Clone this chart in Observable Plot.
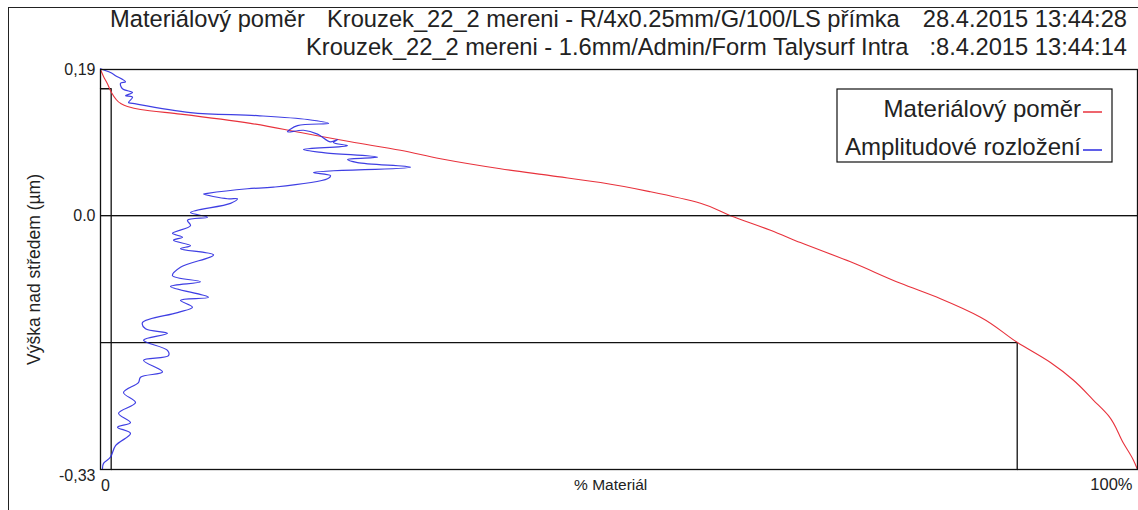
<!DOCTYPE html>
<html>
<head>
<meta charset="utf-8">
<script src="https://cdn.jsdelivr.net/npm/d3@7"></script>
<script src="https://cdn.jsdelivr.net/npm/@observablehq/plot@0.6"></script>
<style>
  html, body { margin: 0; padding: 0; background: #fff; }
  #wrap { position: relative; width: 1138px; height: 510px; overflow: hidden; font-family: "Liberation Sans", Arial, sans-serif; }
  #outer { position: absolute; left: 8px; top: 7px; width: 1200px; height: 600px; border-left: 1.5px solid #222; border-top: 1.5px solid #222; }
  #chart { position: absolute; left: 0; top: 0; }
</style>
</head>
<body>
<div id="wrap"><div id="outer"></div><div id="chart"></div></div>
<script>
// Material ratio (Abbott) curve: % material vs height (µm)
const redX = [0, 0.29, 0.68, 1.06, 1.45, 1.93, 2.60, 3.86, 7.71, 14.46, 19.29, 24.11, 28.93, 32.79, 38.57, 43.39, 48.22, 53.04, 57.86, 60.75, 64.61, 67.50, 72.32, 77.15, 81.00, 84.86, 88.43, 91.61, 93.83, 95.76, 97.20, 98.65, 99.61, 100];
const redY = [0.190, 0.181, 0.171, 0.160, 0.152, 0.146, 0.142, 0.138, 0.132, 0.120, 0.108, 0.096, 0.085, 0.074, 0.061, 0.052, 0.043, 0.031, 0.016, 0.000, -0.019, -0.035, -0.060, -0.088, -0.108, -0.132, -0.165, -0.191, -0.214, -0.240, -0.260, -0.296, -0.318, -0.330];

// Amplitude distribution: relative density (same % axis) vs height (µm)
const blueX = [0, 0.96, 1.45, 2.41, 1.93, 2.12, 3.09, 2.41, 3.09, 2.70, 3.09, 8.68, 15.14, 19.96, 21.99, 19.00, 18.03, 19.58, 20.93, 22.18, 22.85, 22.47, 23.82, 19.58, 21.50, 26.71, 23.82, 24.78, 29.89, 20.54, 22.18, 21.89, 16.68, 14.18, 10.32, 9.93, 12.25, 13.21, 12.54, 8.68, 10.32, 8.39, 8.68, 6.94, 7.91, 7.04, 8.68, 7.71, 10.90, 7.71, 6.94, 9.64, 6.75, 10.41, 7.71, 8.87, 7.43, 4.05, 4.34, 6.46, 4.15, 6.46, 6.56, 4.15, 5.98, 3.86, 3.66, 2.22, 3.38, 1.74, 2.89, 1.64, 2.89, 1.45, 0.96, 0.29, 0.19];
const blueY = [0.191, 0.186, 0.182, 0.174, 0.172, 0.165, 0.160, 0.156, 0.154, 0.147, 0.146, 0.134, 0.130, 0.125, 0.120, 0.117, 0.109, 0.111, 0.106, 0.096, 0.099, 0.095, 0.091, 0.086, 0.082, 0.076, 0.073, 0.069, 0.063, 0.056, 0.052, 0.048, 0.037, 0.035, 0.029, 0.028, 0.022, 0.022, 0.016, 0.004, -0.002, -0.006, -0.013, -0.023, -0.028, -0.032, -0.039, -0.043, -0.051, -0.067, -0.078, -0.086, -0.092, -0.106, -0.110, -0.119, -0.126, -0.139, -0.147, -0.153, -0.162, -0.175, -0.182, -0.188, -0.203, -0.210, -0.217, -0.230, -0.243, -0.257, -0.269, -0.275, -0.283, -0.299, -0.314, -0.322, -0.329];

// Material ratio construction lines (Mr1, Mr2 and their heights)
const mrX = [1.03, 88.4];
const mrY = [0.165, -0.165];

// Axis ticks / labels
const yTicks = [0.19, 0];
const yTickLabels = ["0,19", "0.0"];
const yBottomTick = [-0.33];
const yBottomLabel = ["-0,33"];
const xDomain = [0, 100];
const yDomain = [-0.33, 0.19];

const titleLine1 = ["Materiálový poměr", "Krouzek_22_2 mereni - R/4x0.25mm/G/100/LS přímka", "28.4.2015 13:44:28"];
const titleLine2 = ["Krouzek_22_2 mereni - 1.6mm/Admin/Form Talysurf Intra", ":8.4.2015 13:44:14"];
const legendLabels = ["Materiálový poměr", "Amplitudové rozložení"];
const legendColors = ["#e8323c", "#2a2ae0"];
const xLabel = "% Materiál";
const yLabel = "Výška nad středem (µm)";

const redData = redX.map((x, i) => ({x, y: redY[i]}));
const blueData = blueX.map((x, i) => ({x, y: blueY[i]}));
const mrData = mrX.flatMap((mx, i) => [
  {x: xDomain[0], y: mrY[i], k: i},
  {x: mx, y: mrY[i], k: i},
  {x: mx, y: yDomain[0], k: i}
]);

const FONT = "Liberation Sans, Arial, sans-serif";

const chart = Plot.plot({
  width: 1138,
  height: 510,
  marginLeft: 100,
  marginRight: 1,
  marginTop: 69,
  marginBottom: 41,
  style: {fontFamily: FONT, background: "transparent", overflow: "visible"},
  x: {domain: xDomain, axis: null},
  y: {domain: yDomain, axis: null},
  marks: [
    Plot.ruleY([0], {stroke: "#111", strokeWidth: 1.1}),
    Plot.line(mrData, {x: "x", y: "y", z: "k", stroke: "#111", strokeWidth: 1.3}),
    Plot.line(redData, {x: "x", y: "y", stroke: legendColors[0], strokeWidth: 1.1, curve: "monotone-y"}),
    Plot.line(blueData, {x: "x", y: "y", stroke: legendColors[1], strokeWidth: 1.2, curve: "catmull-rom", strokeOpacity: 0.9}),
    Plot.frame({stroke: "#111", strokeWidth: 1.3}),
    Plot.text(yTicks, {x: 0, y: d => d, text: (d, i) => yTickLabels[i], textAnchor: "end", dx: -5, fontSize: 16, fill: "#222"}),
    Plot.text(yBottomTick, {x: 0, y: d => d, text: (d, i) => yBottomLabel[i], textAnchor: "end", dx: -5, dy: 6, fontSize: 16, fill: "#222"}),
    Plot.tickY(yTicks.concat(yBottomTick), {x1: -0.3, x2: 0, stroke: "#111"}),
    Plot.text([0], {x: d => d, frameAnchor: "bottom", dy: 21, dx: 5, text: ["0"], fontSize: 16, fill: "#222"}),
    Plot.text([xLabel], {x: 49.2, frameAnchor: "bottom", dy: 20, text: d => d, fontSize: 15.5, fill: "#222"}),
    Plot.text(["100%"], {x: 100, frameAnchor: "bottom", dy: 20, dx: -5, textAnchor: "end", text: d => d, fontSize: 16.5, fill: "#222"}),
    Plot.text([yLabel], {frameAnchor: "left", dx: -66, rotate: -90, textAnchor: "middle", text: d => d, fontSize: 17.5, fill: "#222"})
  ]
});

const svg = d3.select(chart);
// Titles
const t = svg.append("g").attr("font-family", FONT).attr("font-size", 23.7).attr("fill", "#222").attr("text-anchor", "start");
t.append("text").attr("x", 110).attr("y", 27).attr("text-anchor", "start").text(titleLine1[0]);
t.append("text").attr("x", 327).attr("y", 27).attr("text-anchor", "start").text(titleLine1[1]);
t.append("text").attr("x", 1127).attr("y", 27).attr("text-anchor", "end").text(titleLine1[2]);
t.append("text").attr("x", 306).attr("y", 55).attr("text-anchor", "start").text(titleLine2[0]);
t.append("text").attr("x", 1127).attr("y", 55).attr("text-anchor", "end").text(titleLine2[1]);

// Legend
const lg = svg.append("g").attr("font-family", FONT).attr("font-size", 24).attr("fill", "#222");
lg.append("rect").attr("x", 837).attr("y", 89).attr("width", 275).attr("height", 73)
  .attr("fill", "white").attr("stroke", "#111").attr("stroke-width", 1.2);
legendLabels.forEach((lab, i) => {
  const yy = 112 + i * 38;
  lg.append("text").attr("x", 1081).attr("y", yy + 5).attr("text-anchor", "end").text(lab);
  lg.append("line").attr("x1", 1083).attr("x2", 1102).attr("y1", yy).attr("y2", yy)
    .attr("stroke", legendColors[i]).attr("stroke-width", 1.5);
});

document.getElementById("chart").appendChild(chart);
</script>
</body>
</html>
